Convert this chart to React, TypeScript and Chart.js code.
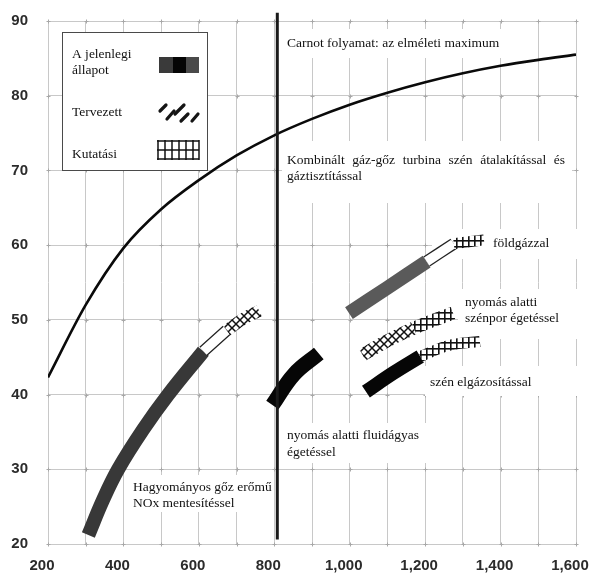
import { useEffect, useRef } from 'react';
import { Chart, registerables } from 'chart.js';

Chart.register(...registerables);

// ---- Data ----
const xTickValues = [200, 400, 600, 800, 1000, 1200, 1400, 1600];
const yTickValues = [20, 30, 40, 50, 60, 70, 80, 90];

const carnotX = [200, 300, 400, 500, 600, 700, 800, 900, 1000, 1100, 1200, 1300, 1400, 1500, 1600];
const carnotY = [42.3, 52.0, 59.6, 64.8, 68.7, 72.0, 74.7, 76.9, 78.8, 80.4, 81.8, 83.0, 84.0, 84.8, 85.5];

const steamCurrentX = [307, 345, 386, 452, 519, 612];
const steamCurrentY = [21.2, 25.8, 30.0, 35.3, 40.0, 45.8];
const steamPlannedX = [612, 674];
const steamPlannedY = [45.8, 48.6];
const steamResearchX = [674, 720, 760];
const steamResearchY = [48.6, 50.2, 51.2];

const pfbcCurrentX = [795, 852, 918];
const pfbcCurrentY = [38.6, 42.7, 45.5];

const gasCurrentX = [998, 1100, 1204];
const gasCurrentY = [50.9, 54.3, 57.8];
const gasPlannedX = [1204, 1276];
const gasPlannedY = [57.8, 60.2];
const gasResearchX = [1276, 1356];
const gasResearchY = [60.2, 60.7];

const pcResearchLowX = [1034, 1100, 1170];
const pcResearchLowY = [45.3, 47.2, 48.9];
const pcResearchHighX = [1170, 1225, 1274];
const pcResearchHighY = [48.9, 50.0, 50.9];

const igccCurrentX = [1043, 1116, 1187];
const igccCurrentY = [40.4, 42.9, 45.1];
const igccResearchX = [1187, 1265, 1345];
const igccResearchY = [45.1, 46.6, 47.1];

const markerX = [808, 808];
const markerY = [20.6, 91.1];

const legendLabels = ['A jelenlegi', 'állapot', 'Tervezett', 'Kutatási'];
const carnotLabel = 'Carnot folyamat: az elméleti maximum';
const combinedLabel1 = 'Kombinált gáz-gőz turbina szén átalakítással és';
const combinedLabel2 = 'gáztisztítással';
const gasLabel = 'földgázzal';
const pcLabel = ['nyomás alatti', 'szénpor égetéssel'];
const igccLabel = 'szén elgázosítással';
const pfbcLabel = ['nyomás alatti fluidágyas', 'égetéssel'];
const steamLabel = ['Hagyományos gőz erőmű', 'NOx mentesítéssel'];

const pts = (xs: number[], ys: number[]) => xs.map((x, i) => ({ x, y: ys[i] }));

function makeGridPattern(): CanvasPattern | string {
  const s = 6;
  const c = document.createElement('canvas');
  c.width = s;
  c.height = s;
  const g = c.getContext('2d');
  if (!g) return '#444';
  g.fillStyle = '#ffffff';
  g.fillRect(0, 0, s, s);
  g.fillStyle = '#111111';
  g.fillRect(0, 0, s, 1.6);
  g.fillRect(0, 0, 1.6, s);
  return g.createPattern(c, 'repeat') || '#444';
}

function makeDiamondPattern(): CanvasPattern | string {
  const s = 8;
  const c = document.createElement('canvas');
  c.width = s;
  c.height = s;
  const g = c.getContext('2d');
  if (!g) return '#444';
  g.fillStyle = '#ffffff';
  g.fillRect(0, 0, s, s);
  g.strokeStyle = '#111111';
  g.lineWidth = 1.5;
  g.beginPath();
  g.moveTo(0, 0);
  g.lineTo(s, s);
  g.moveTo(s, 0);
  g.lineTo(0, s);
  g.stroke();
  return g.createPattern(c, 'repeat') || '#444';
}

const SERIF = '"Liberation Serif", "Times New Roman", serif';
const TEXT_FONT = `13.5px ${SERIF}`;

function drawJustified(ctx: CanvasRenderingContext2D, text: string, x: number, y: number, width: number) {
  const words = text.split(' ');
  const widths = words.map((w) => ctx.measureText(w).width);
  const sum = widths.reduce((a, b) => a + b, 0);
  const gap = (width - sum) / (words.length - 1);
  let cx = x;
  words.forEach((w, i) => {
    ctx.fillText(w, cx, y);
    cx += widths[i] + gap;
  });
}

const boxesPlugin = {
  id: 'whiteBoxes',
  beforeDatasetsDraw(chart: any) {
    const ctx: CanvasRenderingContext2D = chart.ctx;
    const area = chart.chartArea;
    const xs = chart.scales.x;
    const ys = chart.scales.y;
    ctx.save();
    // small darker marks at grid intersections
    ctx.strokeStyle = '#a8a8a8';
    ctx.lineWidth = 1;
    for (let xv = 200; xv <= 1600; xv += 100) {
      for (let yv = 20; yv <= 90; yv += 10) {
        const px = Math.round(xs.getPixelForValue(xv)) + 0.5;
        const py = Math.round(ys.getPixelForValue(yv)) + 0.5;
        if (px < area.left - 1 || px > area.right + 1) continue;
        ctx.beginPath();
        ctx.moveTo(px - 2, py);
        ctx.lineTo(px + 2, py);
        ctx.moveTo(px, py - 2);
        ctx.lineTo(px, py + 2);
        ctx.stroke();
      }
    }
    ctx.fillStyle = '#ffffff';
    const rects = [
      [282, 29, 226, 29],
      [282, 141, 290, 62],
      [432, 229, 150, 30],
      [458, 289, 122, 50],
      [425, 366, 155, 30],
      [281, 423, 147, 40],
      [128, 475, 145, 37],
    ];
    rects.forEach(([x, y, w, h]) => ctx.fillRect(x, y, w, h));
    ctx.restore();
  },
  afterDatasetsDraw(chart: any) {
    const ctx: CanvasRenderingContext2D = chart.ctx;
    ctx.save();
    // legend box
    ctx.fillStyle = '#ffffff';
    ctx.fillRect(62, 32, 145, 138);
    ctx.strokeStyle = '#4a4a4a';
    ctx.lineWidth = 1;
    ctx.strokeRect(62.5, 32.5, 145, 138);

    ctx.fillStyle = '#111';
    ctx.font = TEXT_FONT;
    ctx.textBaseline = 'middle';
    ctx.textAlign = 'left';
    ctx.fillText(legendLabels[0], 72, 54);
    ctx.fillText(legendLabels[1], 72, 70);
    ctx.fillText(legendLabels[2], 72, 112);
    ctx.fillText(legendLabels[3], 72, 154);

    // current symbol
    ctx.fillStyle = '#3a3a3a';
    ctx.fillRect(159, 57, 14, 16);
    ctx.fillStyle = '#050505';
    ctx.fillRect(173, 57, 13, 16);
    ctx.fillStyle = '#4a4a4a';
    ctx.fillRect(186, 57, 13, 16);

    // planned symbol
    ctx.strokeStyle = '#151515';
    ctx.lineWidth = 3.2;
    ctx.lineCap = 'round';
    const strokes = [
      [160, 111, 166, 105],
      [167, 119, 174, 111],
      [175, 114, 184, 105],
      [181, 121, 188, 114],
      [192, 121, 198, 114],
    ];
    strokes.forEach(([a, b, c, d]) => {
      ctx.beginPath();
      ctx.moveTo(a, b);
      ctx.lineTo(c, d);
      ctx.stroke();
    });

    // research symbol
    ctx.lineCap = 'butt';
    ctx.lineWidth = 1.5;
    ctx.strokeStyle = '#111';
    [141, 150, 159].forEach((y) => {
      ctx.beginPath();
      ctx.moveTo(157, y);
      ctx.lineTo(199, y);
      ctx.stroke();
    });
    [158, 165, 172, 179, 186, 193, 199].forEach((x) => {
      ctx.beginPath();
      ctx.moveTo(x, 140);
      ctx.lineTo(x, 160);
      ctx.stroke();
    });

    // annotations
    ctx.fillStyle = '#111';
    ctx.font = TEXT_FONT;
    ctx.fillText(carnotLabel, 287, 43);
    drawJustified(ctx, combinedLabel1, 287, 160, 278);
    ctx.fillText(combinedLabel2, 287, 176);
    ctx.fillText(gasLabel, 493, 243);
    ctx.fillText(pcLabel[0], 465, 302);
    ctx.fillText(pcLabel[1], 465, 318);
    ctx.fillText(igccLabel, 430, 382);
    ctx.fillText(pfbcLabel[0], 287, 435);
    ctx.fillText(pfbcLabel[1], 287, 452);
    ctx.fillText(steamLabel[0], 133, 487);
    ctx.fillText(steamLabel[1], 133, 503);
    ctx.restore();
  },
};

export default function App() {
  const ref = useRef<HTMLCanvasElement | null>(null);

  useEffect(() => {
    document.body.style.margin = '0';
    const canvas = ref.current;
    if (!canvas) return;
    const grid = makeGridPattern();
    const diamond = makeDiamondPattern();

    const band = (data: any[], color: any, width: number, extra: any = {}) => ({
      data,
      borderColor: color,
      borderWidth: width,
      pointRadius: 0,
      fill: false,
      borderCapStyle: 'butt',
      borderJoinStyle: 'round',
      tension: 0.4,
      ...extra,
    });

    const list: any[] = [
      band(pts(carnotX, carnotY), '#0a0a0a', 2.6, { cubicInterpolationMode: 'monotone' }),
      band(pts(steamCurrentX, steamCurrentY), '#383838', 14),
      band(pts(steamPlannedX, steamPlannedY), '#222', 12),
      band(pts(steamPlannedX, steamPlannedY), '#ffffff', 9.5),
      band(pts(steamResearchX, steamResearchY), diamond, 12),
      band(pts(pfbcCurrentX, pfbcCurrentY), '#060606', 15),
      band(pts(gasCurrentX, gasCurrentY), '#5a5a5a', 14),
      band(pts(gasPlannedX, gasPlannedY), '#222', 12),
      band(pts(gasPlannedX, gasPlannedY), '#ffffff', 9.5),
      band(pts(gasResearchX, gasResearchY), grid, 11),
      band(pts(pcResearchLowX, pcResearchLowY), diamond, 13),
      band(pts(pcResearchHighX, pcResearchHighY), grid, 13),
      band(pts(igccCurrentX, igccCurrentY), '#060606', 14),
      band(pts(igccResearchX, igccResearchY), grid, 11),
      band(pts(markerX, markerY), '#1a1a1a', 3, { clip: false, tension: 0 }),
    ];
    const datasets = list.map((d, i) => ({ ...d, order: list.length - i }));

    const chart = new Chart(canvas, {
      type: 'line',
      data: { datasets },
      plugins: [boxesPlugin],
      options: {
        animation: false,
        responsive: false,
        events: [],
        layout: { padding: { top: 21, right: 13, left: 0, bottom: 0 } },
        plugins: { legend: { display: false }, tooltip: { enabled: false } },
        scales: {
          x: {
            type: 'linear',
            min: 200,
            max: 1600,
            border: { display: false },
            grid: { color: '#c8c8c8', lineWidth: 1, drawTicks: false },
            ticks: {
              stepSize: 100,
              autoSkip: false,
              maxRotation: 0,
              padding: 13,
              labelOffset: -6,
              color: '#2b2b2b',
              font: { family: '"Liberation Sans", Arial, sans-serif', size: 15, weight: 'bold' },
              callback: (v: any) =>
                xTickValues.includes(Number(v)) ? Number(v).toLocaleString('en-US') : '',
            },
            afterFit: (s: any) => {
              s.height = 30;
              s.paddingLeft = 0;
              s.paddingRight = 0;
            },
          },
          y: {
            type: 'linear',
            min: 20,
            max: 90,
            border: { display: false },
            grid: { color: '#c8c8c8', lineWidth: 1, drawTicks: false },
            ticks: {
              stepSize: 10,
              padding: 20,
              color: '#2b2b2b',
              font: { family: '"Liberation Sans", Arial, sans-serif', size: 15, weight: 'bold' },
              callback: (v: any) => (yTickValues.includes(Number(v)) ? String(v) : ''),
            },
            afterFit: (s: any) => {
              s.width = 48;
              s.paddingTop = 0;
              s.paddingBottom = 0;
            },
          },
        },
      } as any,
    });
    return () => chart.destroy();
  }, []);

  return (
    <div style={{ width: 589, height: 574, background: '#fff' }}>
      <canvas ref={ref} width={589} height={574} style={{ display: 'block' }} />
    </div>
  );
}
